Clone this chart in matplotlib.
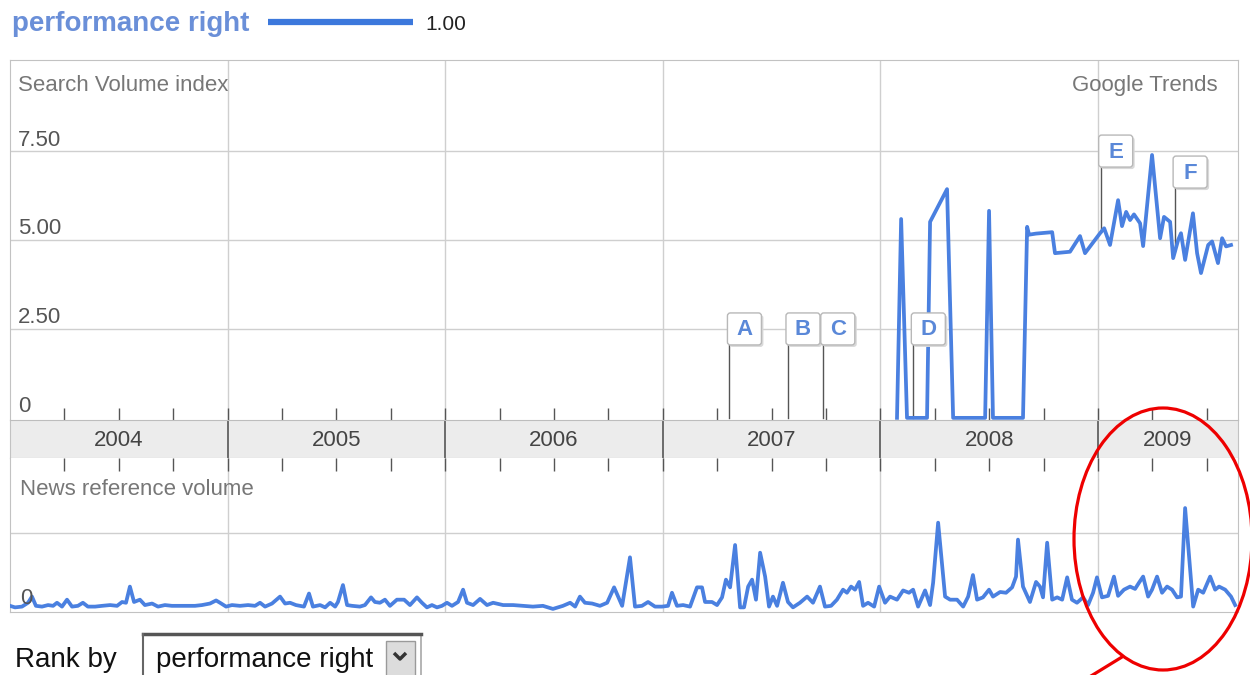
import numpy as np
import matplotlib
matplotlib.use("Agg")
import matplotlib.pyplot as plt
from matplotlib.patches import Ellipse, Rectangle, FancyBboxPatch

plt.rcParams["font.family"] = ["Liberation Sans", "DejaVu Sans"]

W, H = 1250, 675

# search volume index for "performance right" (decimal year, value)
search_dates = [2008.076, 2008.095, 2008.122, 2008.214, 2008.228, 2008.306, 2008.334, 2008.481, 2008.499, 2008.517,
                2008.655, 2008.674, 2008.683, 2008.715, 2008.789, 2008.802, 2008.871, 2008.917, 2008.940, 2009.009,
                2009.028, 2009.055, 2009.092, 2009.110, 2009.129, 2009.147, 2009.165, 2009.193, 2009.207, 2009.248,
                2009.285, 2009.303, 2009.331, 2009.345, 2009.368, 2009.381, 2009.400, 2009.436, 2009.455, 2009.473,
                2009.506, 2009.524, 2009.551, 2009.570, 2009.588, 2009.611]
search_values = [0, 5.59, 0, 0, 5.51, 6.43, 0, 0, 5.82, 0,
                 0, 5.37, 5.15, 5.18, 5.22, 4.63, 4.67, 5.11, 4.63, 5.19,
                 5.33, 4.86, 6.12, 5.39, 5.79, 5.56, 5.72, 5.47, 4.83, 7.39,
                 5.05, 5.65, 5.51, 4.49, 5.00, 5.19, 4.44, 5.75, 4.63, 4.07,
                 4.86, 4.96, 4.35, 5.05, 4.82, 4.86]

# news reference volume (decimal year, relative value)
news_dates = [2004.000, 2004.023, 2004.055, 2004.083, 2004.101, 2004.119, 2004.147, 2004.175, 2004.198, 2004.216,
              2004.239, 2004.262, 2004.285, 2004.312, 2004.335, 2004.358, 2004.391, 2004.423, 2004.460, 2004.492,
              2004.515, 2004.533, 2004.551, 2004.570, 2004.597, 2004.620, 2004.653, 2004.680, 2004.712, 2004.744,
              2004.781, 2004.818, 2004.850, 2004.882, 2004.919, 2004.947, 2004.965, 2004.993, 2005.020, 2005.057,
              2005.094, 2005.126, 2005.149, 2005.172, 2005.204, 2005.241, 2005.264, 2005.287, 2005.314, 2005.351,
              2005.374, 2005.392, 2005.425, 2005.448, 2005.471, 2005.494, 2005.507, 2005.530, 2005.549, 2005.572,
              2005.608, 2005.631, 2005.659, 2005.677, 2005.700, 2005.723, 2005.746, 2005.778, 2005.811, 2005.838,
              2005.870, 2005.893, 2005.916, 2005.939, 2005.962, 2005.985, 2006.008, 2006.031, 2006.059, 2006.082,
              2006.100, 2006.128, 2006.160, 2006.192, 2006.220, 2006.266, 2006.312, 2006.358, 2006.403, 2006.449,
              2006.495, 2006.541, 2006.574, 2006.597, 2006.619, 2006.642, 2006.675, 2006.711, 2006.744, 2006.776,
              2006.813, 2006.849, 2006.872, 2006.904, 2006.932, 2006.964, 2006.996, 2007.024, 2007.042, 2007.065,
              2007.093, 2007.125, 2007.157, 2007.180, 2007.194, 2007.226, 2007.249, 2007.272, 2007.290, 2007.309,
              2007.332, 2007.355, 2007.373, 2007.392, 2007.410, 2007.428, 2007.447, 2007.470, 2007.488, 2007.506,
              2007.525, 2007.552, 2007.575, 2007.598, 2007.630, 2007.663, 2007.690, 2007.722, 2007.745, 2007.773,
              2007.800, 2007.828, 2007.846, 2007.865, 2007.883, 2007.902, 2007.920, 2007.943, 2007.971, 2007.994,
              2008.021, 2008.044, 2008.076, 2008.104, 2008.131, 2008.150, 2008.173, 2008.205, 2008.228, 2008.242,
              2008.265, 2008.297, 2008.320, 2008.352, 2008.380, 2008.403, 2008.425, 2008.444, 2008.471, 2008.499,
              2008.517, 2008.550, 2008.577, 2008.605, 2008.623, 2008.632, 2008.655, 2008.687, 2008.715, 2008.733,
              2008.747, 2008.766, 2008.789, 2008.812, 2008.835, 2008.858, 2008.880, 2008.903, 2008.931, 2008.954,
              2008.977, 2008.995, 2009.018, 2009.046, 2009.073, 2009.092, 2009.119, 2009.147, 2009.170, 2009.188,
              2009.207, 2009.230, 2009.248, 2009.271, 2009.294, 2009.317, 2009.340, 2009.363, 2009.381, 2009.400,
              2009.437, 2009.460, 2009.483, 2009.515, 2009.538, 2009.556, 2009.584, 2009.611, 2009.630]
news_values = [0.05, 0.03, 0.04, 0.09, 0.17, 0.05, 0.04, 0.06, 0.05, 0.09,
               0.04, 0.13, 0.04, 0.05, 0.09, 0.04, 0.04, 0.05, 0.06, 0.05,
               0.10, 0.09, 0.30, 0.10, 0.13, 0.06, 0.08, 0.04, 0.06, 0.05,
               0.05, 0.05, 0.05, 0.06, 0.08, 0.12, 0.09, 0.04, 0.06, 0.05,
               0.06, 0.05, 0.09, 0.04, 0.08, 0.17, 0.08, 0.09, 0.06, 0.04,
               0.21, 0.04, 0.06, 0.03, 0.09, 0.04, 0.10, 0.32, 0.06, 0.05,
               0.04, 0.06, 0.16, 0.10, 0.09, 0.13, 0.05, 0.13, 0.13, 0.06,
               0.16, 0.09, 0.03, 0.06, 0.03, 0.05, 0.09, 0.05, 0.10, 0.26,
               0.09, 0.06, 0.14, 0.06, 0.09, 0.06, 0.06, 0.05, 0.04, 0.05,
               0.01, 0.05, 0.09, 0.04, 0.17, 0.09, 0.08, 0.05, 0.09, 0.29,
               0.05, 0.68, 0.04, 0.05, 0.10, 0.04, 0.04, 0.05, 0.22, 0.05,
               0.06, 0.04, 0.29, 0.29, 0.10, 0.10, 0.06, 0.16, 0.39, 0.29,
               0.84, 0.03, 0.03, 0.30, 0.39, 0.13, 0.74, 0.43, 0.04, 0.17,
               0.05, 0.35, 0.10, 0.03, 0.09, 0.17, 0.09, 0.30, 0.04, 0.05,
               0.13, 0.26, 0.22, 0.30, 0.26, 0.36, 0.05, 0.09, 0.04, 0.30,
               0.09, 0.17, 0.13, 0.25, 0.22, 0.26, 0.04, 0.25, 0.06, 0.35,
               1.13, 0.17, 0.13, 0.13, 0.04, 0.17, 0.45, 0.13, 0.16, 0.26,
               0.17, 0.23, 0.22, 0.29, 0.43, 0.91, 0.30, 0.10, 0.36, 0.30,
               0.16, 0.87, 0.13, 0.16, 0.13, 0.42, 0.13, 0.09, 0.16, 0.06,
               0.22, 0.42, 0.16, 0.18, 0.43, 0.18, 0.26, 0.30, 0.27, 0.35,
               0.43, 0.17, 0.26, 0.43, 0.22, 0.30, 0.26, 0.16, 0.17, 1.32,
               0.04, 0.26, 0.22, 0.43, 0.26, 0.30, 0.26, 0.17, 0.06]

# news headline flags
flag_labels = ["A", "B", "C", "D", "E", "F"]
flag_dates = [2007.306, 2007.575, 2007.735, 2008.151, 2009.012, 2009.354]
flag_levels = [2.05, 2.05, 2.05, 2.05, 7.05, 6.46]

years = [2004, 2005, 2006, 2007, 2008, 2009]
search_ticks = [0, 2.5, 5.0, 7.5]
search_tick_labels = ["0", "2.50", "5.00", "7.50"]
x_start, x_end = 2004.0, 2009.643

LINE = "#4a80e0"
GRID = "#cfcfcf"
FRAME = "#c2c2c2"
quarters = [y + q / 4 for y in years for q in range(4) if x_start < y + q / 4 < x_end]


def px_axes(fig, left, top, right, bottom):
    return fig.add_axes([left / W, 1 - bottom / H, (right - left) / W, (bottom - top) / H])


fig = plt.figure(figsize=(W / 100, H / 100), dpi=100)
fig.patch.set_facecolor("white")

# ---- search volume panel ----
ax = px_axes(fig, 10, 60, 1238, 420)
ax.set_xlim(x_start, x_end)
ax.set_ylim(-0.06, 10.06)
for v in search_ticks[1:]:
    ax.axhline(v, color=GRID, lw=1, zorder=0)
for y in years[1:]:
    ax.axvline(y, color=GRID, lw=1, zorder=0)
ax.plot(search_dates, search_values, color=LINE, lw=2.7, zorder=3)
ax.set_xticks(years[1:])
ax.set_xticks(quarters, minor=True)
ax.tick_params(axis="x", which="both", direction="in", length=9, width=1, color="#555555",
               bottom=True, top=False, labelbottom=False)
ax.set_yticks([])
for side in ["left", "top", "right"]:
    ax.spines[side].set_color(FRAME)
ax.spines["bottom"].set_visible(False)
for v, lab in zip(search_ticks, search_tick_labels):
    ax.annotate(lab, (0.0065, v), xycoords=ax.get_yaxis_transform(), xytext=(0, 4),
                textcoords="offset points", ha="left", va="baseline", fontsize=16, color="#555555")

# flags
for lab, d, lvl in zip(flag_labels, flag_dates, flag_levels):
    base = np.interp(d, search_dates, search_values, left=0)
    ax.plot([d, d], [base, lvl], color="#555555", lw=1, zorder=2)

# ---- year band ----
band = px_axes(fig, 10, 420, 1238, 458)
band.set_xlim(x_start, x_end)
band.set_ylim(0, 1)
band.set_facecolor("#ececec")
band.set_xticks([])
band.set_yticks([])
band.spines["top"].set_color("#bdbdbd")
band.spines["bottom"].set_color("#bdbdbd")
band.spines["left"].set_color(FRAME)
band.spines["right"].set_color(FRAME)
for y in years[1:]:
    band.axvline(y, color="#555555", lw=1.2)
for y in years:
    mid = (y + min(y + 1, x_end)) / 2
    band.text(mid, 0.45, str(y), ha="center", va="center", fontsize=16, color="#444444")

# ---- news panel ----
nx = px_axes(fig, 10, 458, 1238, 612)
nx.set_xlim(x_start, x_end)
nx.set_ylim(-0.03, 1.97)
nx.axhline(1.0, color=GRID, lw=1, zorder=0)
for y in years[1:]:
    nx.axvline(y, color=GRID, lw=1, zorder=0)
nx.plot(news_dates, news_values, color=LINE, lw=2.7, zorder=3)
nx.set_xticks(years[1:])
nx.set_xticks(quarters, minor=True)
nx.tick_params(axis="x", which="both", direction="in", length=9, width=1, color="#555555",
               bottom=False, top=True, labelbottom=False, labeltop=False)
nx.set_yticks([])
nx.spines["top"].set_visible(False)
for side in ["left", "bottom", "right"]:
    nx.spines[side].set_color(FRAME)
nx.annotate("0", (0.008, 0), xycoords=nx.get_yaxis_transform(), xytext=(0, 4),
            textcoords="offset points", ha="left", va="baseline", fontsize=16, color="#555555")

# ---- overlay in pixel coordinates ----
ov = fig.add_axes([0, 0, 1, 1], zorder=10)
ov.set_xlim(0, W)
ov.set_ylim(H, 0)
ov.axis("off")
ov.patch.set_alpha(0)

# flag boxes, placed from the data position of each flag
for lab, d, lvl in zip(flag_labels, flag_dates, flag_levels):
    px, py = ax.transData.transform((d, lvl))
    bx, by = px - 2, H - py - 32
    ov.add_patch(FancyBboxPatch((bx + 2, by + 2), 34, 32, boxstyle="round,pad=0,rounding_size=3",
                                fc="#d9d9d9", ec="none", zorder=4))
    ov.add_patch(FancyBboxPatch((bx, by), 34, 32, boxstyle="round,pad=0,rounding_size=3",
                                fc="white", ec="#b8b8b8", lw=1, zorder=5))
    ov.text(bx + 17, by + 17, lab, ha="center", va="center", fontsize=16,
            fontweight="bold", color="#5a88d8", zorder=6)

ov.text(12, 31, "performance right", fontsize=20, fontweight="bold", color="#6a8fd8",
        ha="left", va="baseline")
ov.plot([268, 413], [22, 22], color="#3c78dc", lw=4.5, solid_capstyle="butt")
ov.text(425, 30, "1.00", fontsize=15, color="#222222", ha="left", va="baseline")
ov.text(18, 91, "Search Volume index", fontsize=16, color="#777777", ha="left", va="baseline")
ov.text(1218, 91, "Google Trends", fontsize=16, color="#777777", ha="right", va="baseline")
ov.text(20, 495, "News reference volume", fontsize=16, color="#777777", ha="left", va="baseline")

# rank-by dropdown
ov.text(15, 667, "Rank by", fontsize=20, color="#111111", ha="left", va="baseline")
ov.add_patch(Rectangle((143, 634), 278, 50, fc="white", ec="#a8a8a8", lw=1.2))
ov.plot([143, 421], [634, 634], color="#555555", lw=2.5)
ov.plot([143, 143], [634, 675], color="#666666", lw=1.5)
ov.text(156, 667, "performance right", fontsize=20, color="#111111", ha="left", va="baseline")
ov.add_patch(Rectangle((386, 641), 29, 40, fc="#dcdcdc", ec="#9a9a9a", lw=1))
ov.plot([394, 400, 406], [653, 659, 653], color="#333333", lw=2.5, solid_capstyle="butt")

# red highlight
ov.add_patch(Ellipse((1163, 539), 178, 262, fc="none", ec="#ee0000", lw=2.3))
ov.plot([1091, 1122], [676, 657], color="#ee0000", lw=2.3)

fig.savefig("out.png", dpi=100, facecolor="white")
